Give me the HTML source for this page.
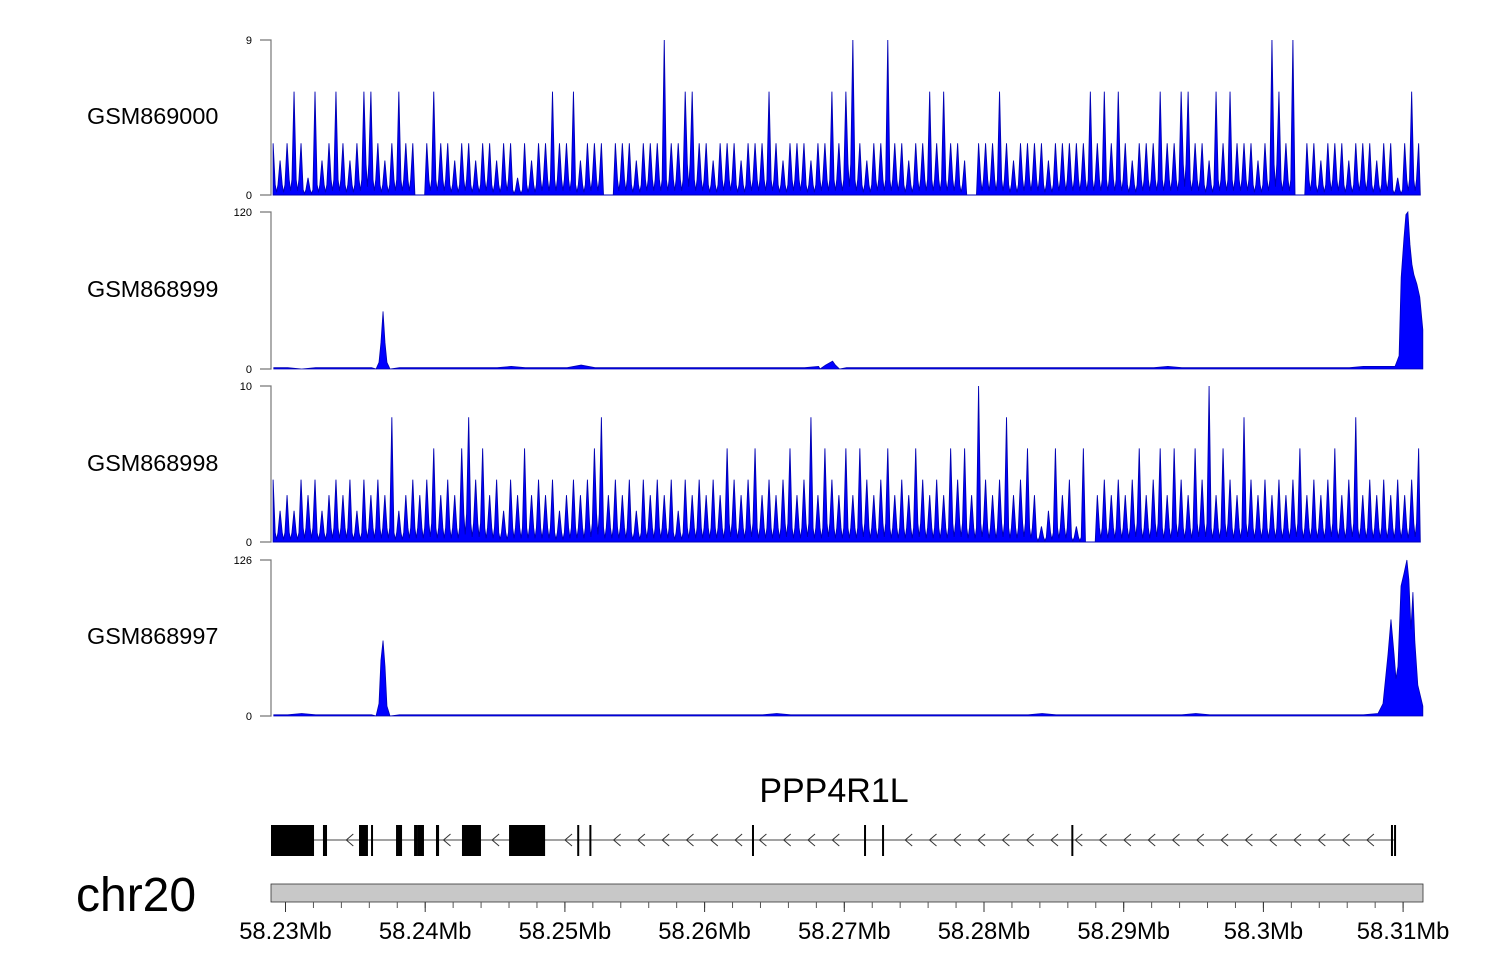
<!DOCTYPE html>
<html><head><meta charset="utf-8"><style>
html,body{margin:0;padding:0;background:#fff;}
svg{display:block;font-family:"Liberation Sans",Arial,sans-serif;}
</style></head><body>
<svg id="chart" width="1500" height="980" viewBox="0 0 1500 980" xmlns="http://www.w3.org/2000/svg">
<text x="87" y="124" font-size="23.4">GSM869000</text>
<text x="87" y="297" font-size="23.4">GSM868999</text>
<text x="87" y="471" font-size="23.4">GSM868998</text>
<text x="87" y="644" font-size="23.4">GSM868997</text>
<text x="834" y="802" font-size="34" text-anchor="middle">PPP4R1L</text>
<text x="76" y="911" font-size="48">chr20</text>
<g id="tracks"></g><g id="gene"></g><g id="axis"></g>
</svg>
<script>
// ---- data ----
const startKb = 0;            // kb offset from 58.22896 Mb
const endKb = 82.46;
const binKb = 0.5;
const track1Values = [3,2,3,6,3,1,6,2,3,6, 3,2,3,6,6,3,2,3,6,3, 3,0,3,6,3,3,2,3,3,2, 3,3,2,3,3,1,3,2,3,3,
 6,3,3,6,2,3,3,3,0,3, 3,3,2,3,3,3,9,3,3,6, 6,3,3,2,3,3,3,2,3,3, 3,6,3,2,3,3,3,2,3,3,
 6,3,6,9,3,2,3,3,9,3, 3,2,3,3,6,3,6,3,3,2, 0,3,3,3,6,3,2,3,3,3, 3,2,3,3,3,3,3,6,3,6,
 3,6,3,2,3,3,3,6,3,3, 6,6,3,3,2,6,3,6,3,3, 3,2,3,9,6,3,9,0,3,3, 2,3,3,3,2,3,3,3,2,3, 3,1,3,6,3];
const track3Values = [4,2,3,2,4,3,4,2,3,4, 3,4,2,4,3,4,3,8,2,3, 4,3,4,6,3,4,3,6,8,4, 6,3,4,2,4,3,6,3,4,3,
 4,2,3,4,3,4,6,8,3,4, 3,4,2,4,3,4,3,4,2,4, 3,4,3,4,3,6,4,3,4,6, 3,4,3,4,6,3,4,8,3,6,
 4,3,6,3,6,4,3,4,6,3, 4,3,6,4,3,4,3,6,4,6, 3,10,4,3,4,8,3,4,6,3, 1,2,6,3,4,1,6,0,3,4,
 3,4,3,4,6,3,4,6,3,6, 4,3,6,4,10,3,6,4,3,8, 4,3,4,3,4,3,4,6,3,4, 3,4,6,3,4,8,3,4,3,4, 3,4,3,4,6];
const track2Baseline = [1,1,0,1,1,1,1,1,1,1, 1,1,1,1,1,1,1,2,1,1, 1,1,3,1,1,1,1,1,1,1, 1,1,1,1,1,1,1,1,1,2,
 3,1,1,1,1,1,1,1,1,1, 1,1,1,1,1,1,1,1,1,1, 1,1,1,1,2,1,1,1,1,1, 1,1,1,1,1,1,1,1,2,1, 1,1,1];
const track2PeakKb = [7.52,7.73,7.87,8.02,8.16,8.30,8.52, 39.3,39.7,40.2,40.4,40.7, 80.46,80.75,80.9,81.1,81.24,81.38,81.53,81.67,81.81,82.02,82.23,82.45];
const track2PeakVal = [0,5,20,44,20,5,0, 0,3,6,3,0, 2,10,70,100,118,120,95,80,72,65,55,30];
const track4Baseline = [1,1,2,1,1,1,1,1,1,1, 1,1,1,1,1,1,1,1,1,1, 1,1,1,1,1,1,1,1,1,1, 1,1,1,1,1,1,2,1,1,1,
 1,1,1,1,1,1,1,1,1,1, 1,1,1,1,1,2,1,1,1,1, 1,1,1,1,1,1,2,1,1,1, 1,1,1,1,1,1,1,1,1,1, 1,1,1];
const track4PeakKb = [7.52,7.73,7.87,8.02,8.16,8.30,8.52, 79.24,79.6,79.96,80.17,80.39,80.53,80.67,80.89,81.1,81.31,81.45,81.6,81.74,81.88,82.09,82.45];
const track4PeakVal = [0,10,45,61,40,8,0, 2,10,50,78,50,30,40,105,115,126,110,70,100,60,25,8];
const trackMax = [9,120,10,126];
const exonStartKb = [0,3.72,6.30,7.16,8.95,10.24,10.52,11.81,13.67,17.04,21.92,22.79,34.43,42.45,43.74,57.29,80.17,80.39];
const exonEndKb = [3.08,4.01,6.94,7.30,9.38,10.52,10.95,12.03,15.03,19.62,22.06,22.93,34.57,42.59,43.88,57.43,80.31,80.53];
const geneEndKb = 80.53;
const tickMb = [58.23,58.24,58.25,58.26,58.27,58.28,58.29,58.3,58.31];
const tickLabels = ["58.23Mb","58.24Mb","58.25Mb","58.26Mb","58.27Mb","58.28Mb","58.29Mb","58.3Mb","58.31Mb"];

// ---- scales ----
const NS = "http://www.w3.org/2000/svg";
const x0 = 271, pxPerKb = 13.97;
const xKb = kb => x0 + kb * pxPerKb;
const xMb = mb => 285.5 + (mb - 58.23) * 1000 * pxPerKb;
const tracksY = [[40,195],[212,369],[386,542],[560,716]];
function mk(tag, attrs, parent){const e=document.createElementNS(NS,tag);for(const k in attrs)e.setAttribute(k,attrs[k]);parent.appendChild(e);return e;}
const gT = document.getElementById('tracks');

function drawTrack(i, pts, name, sw){
  const [top,bot] = tracksY[i], m = trackMax[i];
  const y = v => bot - v / m * (bot - top);
  let d = `M${xKb(pts[0][0]).toFixed(2)},${bot}`;
  pts.forEach(p => { d += ` L${xKb(p[0]).toFixed(2)},${y(p[1]).toFixed(2)}`; });
  d += ` L${xKb(pts[pts.length-1][0]).toFixed(2)},${bot} Z`;
  const p = mk('path',{d:d,fill:'#0000ff',stroke:'#0000b4','stroke-width':sw},gT);
  
  
  const ax = mk('path',{d:`M260,${top} H271 V${bot} H260`,fill:'none',stroke:'#777','stroke-width':'1.2'},gT);
  
  
  const t1 = mk('text',{x:252,y:top+4,'font-size':11,'text-anchor':'end'},gT); t1.textContent = m;
  
  
  const t0 = mk('text',{x:252,y:bot+4,'font-size':11,'text-anchor':'end'},gT); t0.textContent = 0;
  
  
}
function binned(vals){
  const pts=[[0.15,0]];
  vals.forEach((v,k)=>{const c=0.15+k*binKb; pts.push([c,v]);
    if(k<vals.length-1){ const mn=Math.min(v, vals[k+1]); pts.push([c+binKb*0.3, mn*0.3]); pts.push([c+binKb*0.5, mn*0.08]); pts.push([c+binKb*0.7, mn*0.3]); }});
  pts.push([0.15+(vals.length-1)*binKb+0.12,0]);
  return pts;
}
function merged(base, pk, pv){
  const pts=[];
  base.forEach((v,k)=>{const kb=k*1.0+0.2;
    const inside=(kb>7.4&&kb<8.6)||(kb>39.2&&kb<40.8)||kb>79.1;
    if(!inside) pts.push([kb,v]);});
  pk.forEach((k,j)=>pts.push([k,pv[j]]));
  pts.sort((a,b)=>a[0]-b[0]);
  return pts;
}
drawTrack(0, binned(track1Values), 'coverage-gsm869000', 0.9);
drawTrack(1, merged(track2Baseline, track2PeakKb, track2PeakVal), 'coverage-gsm868999', 0.8);
drawTrack(2, binned(track3Values), 'coverage-gsm868998', 0.9);
drawTrack(3, merged(track4Baseline, track4PeakKb, track4PeakVal), 'coverage-gsm868997', 0.8);

// ---- gene ----
const gG = document.getElementById('gene');
const gl = mk('line',{x1:xKb(0),x2:xKb(geneEndKb),y1:840,y2:840,stroke:'#444','stroke-width':1},gG);


for(let x=322; x<xKb(geneEndKb)-4; x+=24.3){
  let inEx=false;
  exonStartKb.forEach((s,j)=>{ if(x>xKb(s)-8 && x<xKb(exonEndKb[j])+2) inEx=true; });
  if(inEx) continue;
  const c = mk('path',{d:`M${x+7},834 L${x},840 L${x+7},846`,fill:'none',stroke:'#333','stroke-width':1},gG);
  
  
}
exonStartKb.forEach((s,j)=>{
  const w = Math.max(2, xKb(exonEndKb[j]) - xKb(s));
  const r = mk('rect',{x:xKb(s),y:825,width:w,height:31,fill:'#000'},gG);
  
  
});

// ---- genome axis ----
const gA = document.getElementById('axis');
const bar = mk('rect',{x:271,y:884,width:1152,height:18,fill:'#c8c8c8',stroke:'#333','stroke-width':0.8},gA);


for(let mb=58.23; mb<=58.3115; mb+=0.002){
  const x = xMb(mb);
  const mt = mk('line',{x1:x,x2:x,y1:902,y2:908,stroke:'#555','stroke-width':1},gA);
  
  
}
tickMb.forEach((mb,j)=>{
  const x = xMb(mb);
  const t = mk('line',{x1:x,x2:x,y1:902,y2:912,stroke:'#333','stroke-width':1},gA);
  
  
  const l = mk('text',{x:x,y:939,'font-size':23.8,'text-anchor':'middle'},gA);
  l.textContent = tickLabels[j];
  
  
});
</script>
</body></html>
